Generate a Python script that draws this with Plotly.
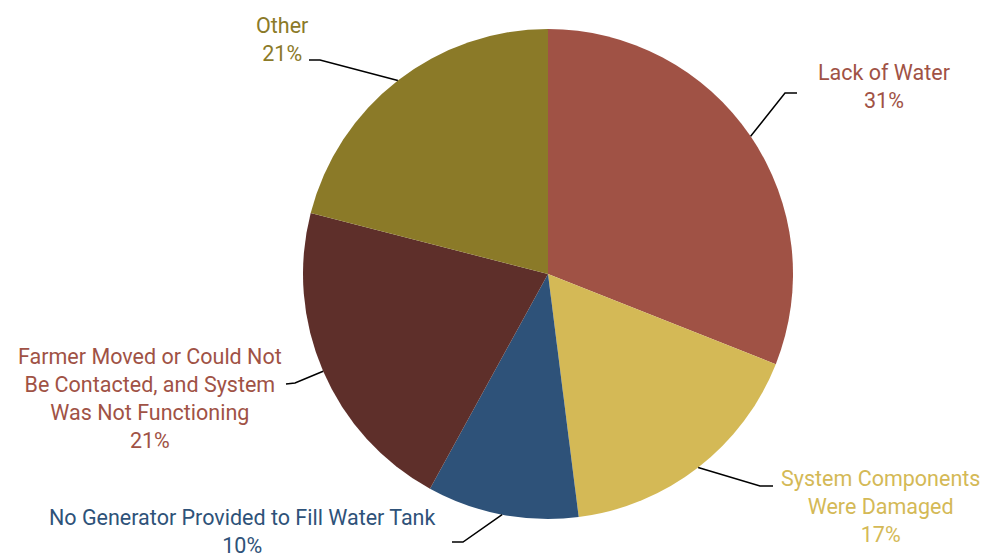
import math
import plotly.graph_objects as go

categories = ["Lack of Water", "System Components Were Damaged", "No Generator Provided to Fill Water Tank",
              "Farmer Moved or Could Not Be Contacted, and System Was Not Functioning", "Other"]
label_text = ["Lack of Water", "System Components<br>Were Damaged", "No Generator Provided to Fill Water Tank",
              "Farmer Moved or Could Not<br>Be Contacted, and System<br>Was Not Functioning", "Other"]
values = [31, 17, 10, 21, 21]
colors = ["#A05245", "#D4B956", "#2E5279", "#5E2F2A", "#8B7A28"]
text_colors = ["#A05245", "#D4B956", "#2E5279", "#A05245", "#8B7A28"]

W, H = 989, 557
CX, CY, R = 548, 274, 245

# layout: label block centre (px), elbow point (px), line end near label (px)
label_pos = [(884, 86), (880, 506), (242, 531), (150, 398), (282, 39)]
elbow = [(785, 93), (760, 486), (463, 542), (295, 383), (320, 60)]
line_end = [(797, 93), (773, 486), (452, 542), (286, 384), (309, 60)]

def px(x, y):
    return x / W, 1 - y / H

fig = go.Figure(go.Pie(
    labels=categories, values=values, sort=False, direction="clockwise", rotation=0,
    marker=dict(colors=colors, line=dict(width=0)), textinfo="none", hoverinfo="label+percent",
    domain=dict(x=[(CX - R) / W, (CX + R) / W], y=[1 - (CY + R) / H, 1 - (CY - R) / H]),
    showlegend=False,
))

total = sum(values)
cum = 0
annotations = []
shapes = []
for i, v in enumerate(values):
    mid = (cum + v / 2) / total * 2 * math.pi
    cum += v
    ex, ey = CX + R * math.sin(mid), CY - R * math.cos(mid)
    pct = round(v / total * 100)
    pts = [(ex, ey), elbow[i], line_end[i]]
    path = "M " + " L ".join(f"{px(*p)[0]:.5f},{px(*p)[1]:.5f}" for p in pts)
    shapes.append(dict(type="path", path=path, xref="paper", yref="paper",
                       line=dict(color="black", width=1.5)))
    lx, ly = px(*label_pos[i])
    annotations.append(dict(x=lx, y=ly, xref="paper", yref="paper", showarrow=False,
                            text=f"{label_text[i]}<br>{pct}%", align="center",
                            xanchor="center", yanchor="middle",
                            font=dict(family="Roboto", size=21.5, color=text_colors[i])))

fig.update_layout(width=W, height=H, margin=dict(l=0, r=0, t=0, b=0),
                  paper_bgcolor="white", plot_bgcolor="white",
                  annotations=annotations, shapes=shapes)
fig.write_html("out.html")
